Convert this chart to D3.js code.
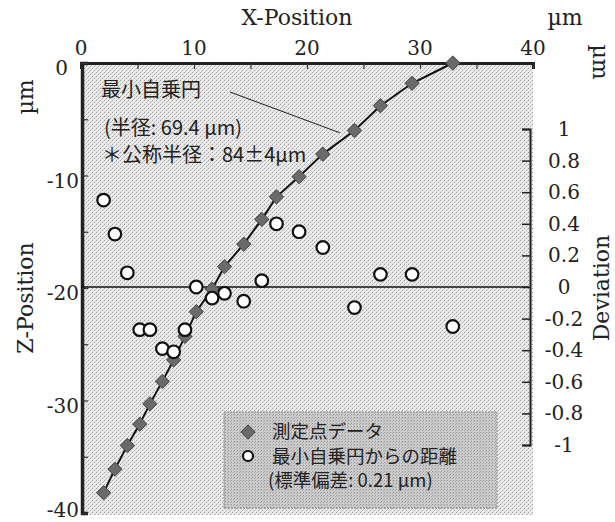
<!DOCTYPE html>
<html>
<head>
<meta charset="utf-8">
<script src="https://cdn.jsdelivr.net/npm/d3@7"></script>
<style>
  body { margin: 0; background: #fff; }
</style>
</head>
<body>
<svg width="615" height="522"></svg>
<script>
// measured points (X, Z) in um
const xPos = [2.0, 3.0, 4.1, 5.2, 6.1, 7.2, 8.2, 9.2, 10.2, 11.6, 12.7, 14.4, 16.0, 17.3, 19.3, 21.4, 24.2, 26.5, 29.3, 32.9];
const zPos = [-38.2, -36.1, -34.0, -32.1, -30.3, -28.3, -26.4, -24.3, -22.1, -20.1, -18.1, -16.1, -13.9, -11.9, -10.1, -8.1, -6.0, -3.8, -1.8, 0];
// distance from least-squares circle
const deviation = [0.55, 0.335, 0.09, -0.27, -0.27, -0.39, -0.41, -0.27, 0.0, -0.07, -0.04, -0.09, 0.04, 0.40, 0.35, 0.25, -0.13, 0.08, 0.08, -0.25];

const xTicks = [0, 10, 20, 30, 40];
const zTicks = [0, -10, -20, -30, -40];
const devTicks = [1, 0.8, 0.6, 0.4, 0.2, 0, -0.2, -0.4, -0.6, -0.8, -1];

const legendLabels = ["測定点データ", "最小自乗円からの距離", "(標準偏差: 0.21 µm)"];
const noteLabels = ["最小自乗円", "(半径: 69.4 µm)", "＊公称半径：84±4µm"];

const serif = "DejaVu Serif, serif";
const jp = "Noto Sans CJK JP, sans-serif";

let svg = d3.select("svg");

let x = d3.scaleLinear().domain([0, 40]).range([81, 533]);
let z = d3.scaleLinear().domain([0, -40]).range([63, 513]);
let dev = d3.scaleLinear().domain([-1, 1]).range([445, 129]);

// stipple pattern for plot area
let defs = svg.append("defs");
let pat = defs.append("pattern").attr("id", "stip").attr("width", 4).attr("height", 4)
    .attr("patternUnits", "userSpaceOnUse");
pat.append("rect").attr("width", 4).attr("height", 4).attr("fill", "#ebebeb");
pat.append("rect").attr("x", 0).attr("y", 0).attr("width", 1).attr("height", 1).attr("fill", "#9c9c9c");
pat.append("rect").attr("x", 2).attr("y", 2).attr("width", 1).attr("height", 1).attr("fill", "#aaaaaa");
pat.append("rect").attr("x", 3).attr("y", 1).attr("width", 1).attr("height", 1).attr("fill", "#c8c8c8");
pat.append("rect").attr("x", 1).attr("y", 3).attr("width", 1).attr("height", 1).attr("fill", "#cccccc");

let pat2 = defs.append("pattern").attr("id", "stip2").attr("width", 3).attr("height", 3)
    .attr("patternUnits", "userSpaceOnUse");
pat2.append("rect").attr("width", 3).attr("height", 3).attr("fill", "#cbcbcb");
pat2.append("rect").attr("x", 0).attr("y", 0).attr("width", 1).attr("height", 1).attr("fill", "#959595");
pat2.append("rect").attr("x", 2).attr("y", 1).attr("width", 1).attr("height", 1).attr("fill", "#aaaaaa");

svg.append("rect")
    .attr("x", x(0)).attr("y", z(0))
    .attr("width", x(40) - x(0)).attr("height", z(-40) - z(0) + 2)
    .attr("fill", "url(#stip)");

// top X axis
let xAxis = d3.axisTop(x).tickValues(d3.range(0, 41, 5)).tickSize(-6).tickFormat("");
let gx = svg.append("g").attr("transform", `translate(0,${z(0)})`).call(xAxis);
gx.select(".domain").attr("stroke", "#222").attr("stroke-width", 3);
gx.selectAll(".tick line").attr("stroke", "#333").attr("stroke-width", 1.2);
svg.selectAll(".xlab").data(xTicks).enter().append("text")
    .attr("x", d => x(d)).attr("y", 55)
    .style("font-family", serif).attr("fill", "#222")
    .attr("text-anchor", "middle").attr("font-size", 20).text(d => d);

// left Z axis
let zAxis = d3.axisLeft(z).tickValues(d3.range(0, -41, -5)).tickSize(-6).tickFormat("");
let gz = svg.append("g").attr("transform", `translate(${x(0) + 1},0)`).call(zAxis);
gz.select(".domain").attr("stroke", "#222").attr("stroke-width", 3.5);
gz.selectAll(".tick line").attr("stroke", "#333").attr("stroke-width", 1.2);
svg.selectAll(".zlab").data(zTicks).enter().append("text")
    .attr("x", d => d === 0 ? 68 : 79).attr("y", d => d === -40 ? 517 : z(d) + 12)
    .style("font-family", serif).attr("fill", "#222")
    .attr("text-anchor", "end").attr("font-size", 20).text(d => d);

// zero line of deviation
svg.append("line")
    .attr("x1", x(0)).attr("x2", x(40) - 4)
    .attr("y1", dev(0)).attr("y2", dev(0))
    .attr("stroke", "#111").attr("stroke-width", 1.5);

// right deviation axis
let devAxis = d3.axisRight(dev).tickValues(devTicks).tickSize(-8).tickFormat("");
let gd = svg.append("g").attr("transform", `translate(${x(40) - 3},0)`).call(devAxis);
gd.select(".domain").attr("stroke", "#222").attr("stroke-width", 2);
gd.selectAll(".tick line").attr("stroke", "#222").attr("stroke-width", 1.5);
svg.selectAll(".dlab").data(devTicks).enter().append("text")
    .attr("x", 564).attr("y", d => dev(d) + 7)
    .style("font-family", serif).attr("fill", "#222")
    .attr("text-anchor", "middle").attr("font-size", 20).text(d => d);

// fitted circle line
let line = d3.line().x((d, i) => x(xPos[i])).y((d, i) => z(zPos[i]));
svg.append("path").datum(xPos)
    .attr("d", line)
    .attr("fill", "none").attr("stroke", "#111").attr("stroke-width", 2);

// annotation leader line
svg.append("line")
    .attr("x1", 230).attr("y1", 92).attr("x2", x(22.9)).attr("y2", z(-6.2))
    .attr("stroke", "#222").attr("stroke-width", 1);

// measured points (diamonds)
let diamond = d3.symbol().type(d3.symbolDiamond2).size(130);
svg.append("g").selectAll("path").data(xPos).enter().append("path")
    .attr("transform", (d, i) => `translate(${x(d)},${z(zPos[i])})`)
    .attr("d", diamond)
    .attr("fill", "#6a6a6a").attr("stroke", "#444").attr("stroke-width", 1);

// deviation (circles)
svg.append("g").selectAll("circle").data(deviation).enter().append("circle")
    .attr("cx", (d, i) => x(xPos[i])).attr("cy", d => dev(d))
    .attr("r", 6.3)
    .attr("fill", "#fff").attr("stroke", "#111").attr("stroke-width", 2.2);

// annotation text
svg.append("text").style("font-family", jp).attr("x", 101).attr("y", 97)
    .attr("font-size", 20).attr("fill", "#222").text(noteLabels[0]);
svg.append("text").style("font-family", jp).attr("x", 104).attr("y", 135)
    .attr("font-size", 20).attr("fill", "#222").text(noteLabels[1]);
svg.append("text").style("font-family", jp).attr("x", 102).attr("y", 162)
    .attr("font-size", 20).attr("fill", "#222").text(noteLabels[2]);

// legend
svg.append("rect")
    .attr("x", 224).attr("y", 412).attr("width", 273).attr("height", 96)
    .attr("fill", "url(#stip2)").attr("stroke", "#888").attr("stroke-dasharray", "2,1");
svg.append("path").attr("transform", "translate(248,432)")
    .attr("d", diamond).attr("fill", "#6a6a6a").attr("stroke", "#444");
svg.append("circle").attr("cx", 248).attr("cy", 456).attr("r", 5)
    .attr("fill", "#fff").attr("stroke", "#111").attr("stroke-width", 2.2);
svg.selectAll(".leg").data(legendLabels).enter().append("text")
    .style("font-family", jp).attr("fill", "#222")
    .attr("x", (d, i) => i === 2 ? 268 : 272)
    .attr("y", (d, i) => 438 + i * 24.5)
    .attr("font-size", 18.5).text(d => d);

// axis titles
svg.append("text").attr("x", 297).attr("y", 25).attr("text-anchor", "middle")
    .style("font-family", serif).attr("fill", "#222").attr("font-size", 22).text("X-Position");
svg.append("text").attr("x", 565).attr("y", 25).attr("text-anchor", "middle")
    .style("font-family", serif).attr("fill", "#222").attr("font-size", 22).text("µm");
svg.append("text").attr("transform", "translate(33,97) rotate(-90)")
    .style("font-family", serif).attr("fill", "#222").attr("text-anchor", "middle").attr("font-size", 22).text("µm");
svg.append("text").attr("transform", "translate(33,298) rotate(-90)")
    .style("font-family", serif).attr("fill", "#222").attr("text-anchor", "middle").attr("font-size", 22).text("Z-Position");
svg.append("text").attr("transform", "translate(593,62) rotate(90)")
    .style("font-family", serif).attr("fill", "#222").attr("text-anchor", "middle").attr("font-size", 22).text("µm");
svg.append("text").attr("transform", "translate(609,288) rotate(-90)")
    .style("font-family", serif).attr("fill", "#222").attr("text-anchor", "middle").attr("font-size", 22).text("Deviation");
</script>
</body>
</html>
